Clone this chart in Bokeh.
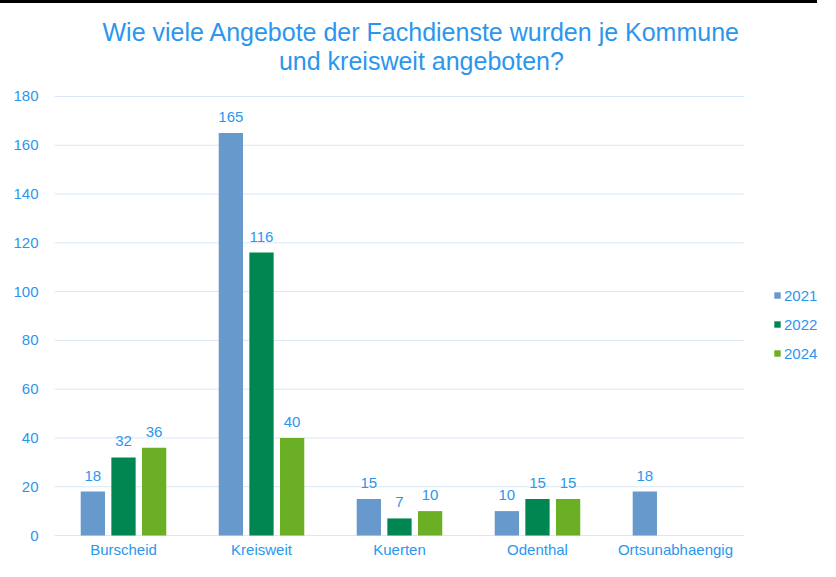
from bokeh.plotting import figure
from bokeh.models import (ColumnDataSource, Range1d, FixedTicker, Label, LabelSet,
                          Legend, LegendItem)
from bokeh.core.properties import value
from bokeh.embed import file_html
from bokeh.resources import INLINE

# ---- data ----
categories = ["Burscheid", "Kreisweit", "Kuerten", "Odenthal", "Ortsunabhaengig"]
years = ["2021", "2022", "2024"]
v2021 = [18, 165, 15, 10, 18]
v2022 = [32, 116, 7, 15, None]
v2024 = [36, 40, 10, 15, None]
y_ticks = [0, 20, 40, 60, 80, 100, 120, 140, 160, 180]
title_lines = ["Wie viele Angebote der Fachdienste wurden je Kommune",
               "und kreisweit angeboten?"]

# ---- style ----
FONT = "Liberation Sans"
TXT = "#2b96ee"
GRID = "#d8e8f8"
colors = {"2021": "#6799cc", "2022": "#008751", "2024": "#6bb024"}
offsets = {"2021": -0.222, "2022": 0.0, "2024": 0.222}
BAR_W = 0.176

n = len(categories)
cat_x = [i + 0.5 for i in range(n)]
y_max = y_ticks[-1]

# frame covers the whole canvas right of the value axis; categories occupy x in [0, n]
p = figure(x_range=Range1d(0, n + 0.551), y_range=Range1d(-10.66, 218.13),
           width=820, height=558, output_backend="svg", toolbar_location=None,
           title=None,
           min_border_left=54, min_border_right=0, min_border_top=0,
           min_border_bottom=0)
p.styles = {"border-left": "3px solid black", "border-top": "3px solid black",
            "margin-left": "-3px"}
p.outline_line_color = None
p.background_fill_color = "white"
p.border_fill_color = "white"

p.xgrid.grid_line_color = None
p.ygrid.grid_line_color = None
p.xaxis.visible = False

p.yaxis.ticker = FixedTicker(ticks=y_ticks)
p.yaxis.axis_line_color = None
p.yaxis.major_tick_line_color = None
p.yaxis.minor_tick_line_color = None
p.yaxis.major_tick_out = 0
p.yaxis.major_tick_in = 0
p.yaxis.major_label_standoff = 16
p.yaxis.major_label_text_font = FONT
p.yaxis.major_label_text_font_size = "15px"
p.yaxis.major_label_text_color = TXT

# horizontal gridlines over the category area only
p.segment(x0=[0] * len(y_ticks), x1=[n] * len(y_ticks), y0=y_ticks, y1=y_ticks,
          line_color=GRID, line_width=1)

# category labels under the 0 line
cat_src = ColumnDataSource(dict(x=cat_x, y=[0] * n, lab=categories))
p.add_layout(LabelSet(x="x", y="y", text="lab", source=cat_src,
                      text_align="center", text_baseline="alphabetic", y_offset=-19,
                      text_font=value(FONT), text_font_size=value("15px"),
                      text_color=value(TXT)))

series = {"2021": v2021, "2022": v2022, "2024": v2024}
items = []
for yr in years:
    vals = series[yr]
    xs = [cx + offsets[yr] for cx, v in zip(cat_x, vals) if v is not None]
    vv = [v for v in vals if v is not None]
    src = ColumnDataSource(dict(x=xs, val=vv, lab=[str(v) for v in vv]))
    r = p.vbar(x="x", top="val", width=BAR_W, source=src,
               fill_color=colors[yr], line_color=None)
    items.append(LegendItem(label=yr, renderers=[r]))
    p.add_layout(LabelSet(x="x", y="val", text="lab", source=src,
                          text_align="center", text_baseline="alphabetic",
                          y_offset=11, text_font=value(FONT),
                          text_font_size=value("15px"), text_color=value(TXT)))

legend = Legend(items=items, location=(719, 198), orientation="vertical",
                glyph_width=8, glyph_height=8, label_height=20,
                spacing=9, label_standoff=3, padding=0, margin=0,
                border_line_color=None, background_fill_alpha=0,
                label_text_font=FONT, label_text_font_size="15px",
                label_text_color=TXT)
p.add_layout(legend)

# two-line title above the plot area
for txt, off in zip(title_lines, [64, 35]):
    p.add_layout(Label(x=2.659, y=y_max, y_offset=off, text=txt,
                       text_align="center", text_baseline="alphabetic",
                       text_font=FONT, text_font_size="25px", text_color=TXT))

open("out.html", "w").write(file_html(p, INLINE))
